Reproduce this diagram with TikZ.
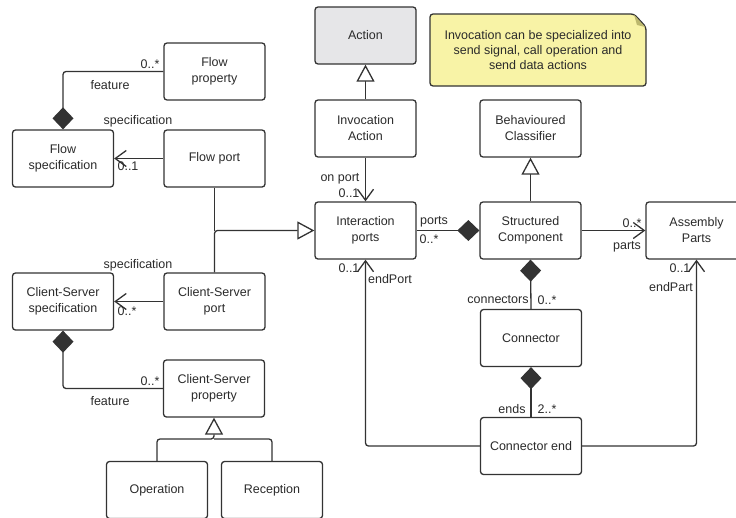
\documentclass[tikz,border=0pt]{standalone}
\usepackage{fontspec}
\setmainfont{Liberation Sans}
\usetikzlibrary{arrows.meta}
\definecolor{linec}{HTML}{333333}
\definecolor{textc}{HTML}{2B2B2B}
\definecolor{actfill}{HTML}{E6E6E8}
\definecolor{notefill}{HTML}{F8F3A6}
\definecolor{foldc}{HTML}{BDB86E}
\newcommand\lblfont{\fontsize{12.5}{16}\selectfont}
\begin{document}
\begin{tikzpicture}[x=1pt,y=-1pt,
  box/.style={draw=linec, line width=1.3pt, rounded corners=3pt, fill=white,
    minimum width=101pt, minimum height=57pt, align=center, inner sep=0pt,
    font=\lblfont, text=textc},
  lbl/.style={font=\lblfont, text=textc, inner sep=0pt},
  conn/.style={draw=linec, line width=1.3pt, rounded corners=3pt},
  comp/.style={conn, -{Diamond[length=22pt,width=21pt,fill=linec]}},
  assoc/.style={conn, -{Straight Barb[length=11pt,width=16pt]}},
  gen/.style={conn, -{Triangle[open,length=17pt,width=18pt,fill=white]}}]
\useasboundingbox (0,0) rectangle (736,517);
\clip (0,0) rectangle (736,517);

% note
\path[draw=linec, line width=1.3pt, fill=notefill, rounded corners=3pt]
  (430,14) -- (634,14) -- (646,27) -- (646,86) -- (430,86) -- cycle;
\fill[foldc] (634,14.7) -- (645.3,27) -- (637,25) -- cycle;
\node[lbl, align=center, font=\fontsize{12.5}{15}\selectfont] (note) at (538,50)
  {Invocation can be specialized into\\send signal, call operation and\\send data actions};

% boxes
\node[box] (fprop) at (214.5,71.5) {Flow\\property};
\node[box] (fspec) at (63,158.5) {Flow\\specification};
\node[box] (fport) at (214.5,158.5) {Flow port};
\node[box, fill=actfill] (action) at (365.5,35.5) {Action};
\node[box] (invact) at (365.5,128.5) {Invocation\\Action};
\node[box] (bc) at (530.5,128.5) {Behavioured\\Classifier};
\node[box] (iports) at (365.5,230.5) {Interaction\\ports};
\node[box] (sc) at (530.5,230.5) {Structured\\Component};
\node[box] (ap) at (696.5,230.5) {Assembly\\Parts};
\node[box] (csspec) at (63,301.5) {Client-Server\\specification};
\node[box] (csport) at (214.5,301.5) {Client-Server\\port};
\node[box] (csprop) at (214,388.5) {Client-Server\\property};
\node[box] (op) at (157,490) {Operation};
\node[box] (rec) at (272,490) {Reception};
\node[box] (connector) at (531,338) {Connector};
\node[box] (cend) at (531,446) {Connector end};

% connectors
\draw[comp] (fprop.west) -| (fspec.north);
\draw[assoc] (fport.west) -- (fspec.east);
\draw[gen] (csport.north) |- (iports.west);
\draw[conn] (fport.south) -- (fport.south |- iports.west);
\draw[assoc] (csport.west) -- (csspec.east);
\draw[comp] (csprop.west) -| (csspec.south);
\coordinate (gj) at (214,439);
\draw[gen] (op.north) |- (gj) -- (csprop.south);
\draw[conn] (rec.north) |- (gj);
\draw[gen] (invact.north) -- (action.south);
\draw[assoc] (invact.south) -- (iports.north);
\draw[comp] (iports.east) -- (sc.west);
\draw[gen] (sc.north) -- (bc.south);
\draw[assoc] (sc.east) -- (ap.west);
\draw[comp] (connector.north) -- (sc.south);
\draw[comp] (cend.north) -- (connector.south);
\draw[assoc] (cend.west) -| (iports.south);
\draw[assoc] (cend.east) -| (ap.south);

% labels
\node[lbl] (l1) at (150,64) {0..*};
\node[lbl] (l2) at (110,85) {feature};
\node[lbl] (l3) at (138,121) {specification};
\node[lbl] (l4) at (128,166) {0..1};
\node[lbl] (l5) at (138,265) {specification};
\node[lbl] (l6) at (127,311) {0..*};
\node[lbl] (l7) at (150,381) {0..*};
\node[lbl] (l8) at (110,401) {feature};
\node[lbl] (l9) at (340,179) {on port};
\node[lbl] (l10) at (349,193) {0..1};
\node[lbl] (l11) at (434,222) {ports};
\node[lbl] (l12) at (429,239) {0..*};
\node[lbl] (l13) at (632,223) {0..*};
\node[lbl] (l14) at (627,247) {parts};
\node[lbl] (l15) at (349,268) {0..1};
\node[lbl] (l16) at (390,279) {endPort};
\node[lbl] (l17) at (680,268) {0..1};
\node[lbl] (l18) at (671,287) {endPart};
\node[lbl] (l19) at (498,300) {connectors};
\node[lbl] (l20) at (547,300) {0..*};
\node[lbl] (l21) at (512,409) {ends};
\node[lbl] (l22) at (547,409) {2..*};
\end{tikzpicture}
\end{document}
